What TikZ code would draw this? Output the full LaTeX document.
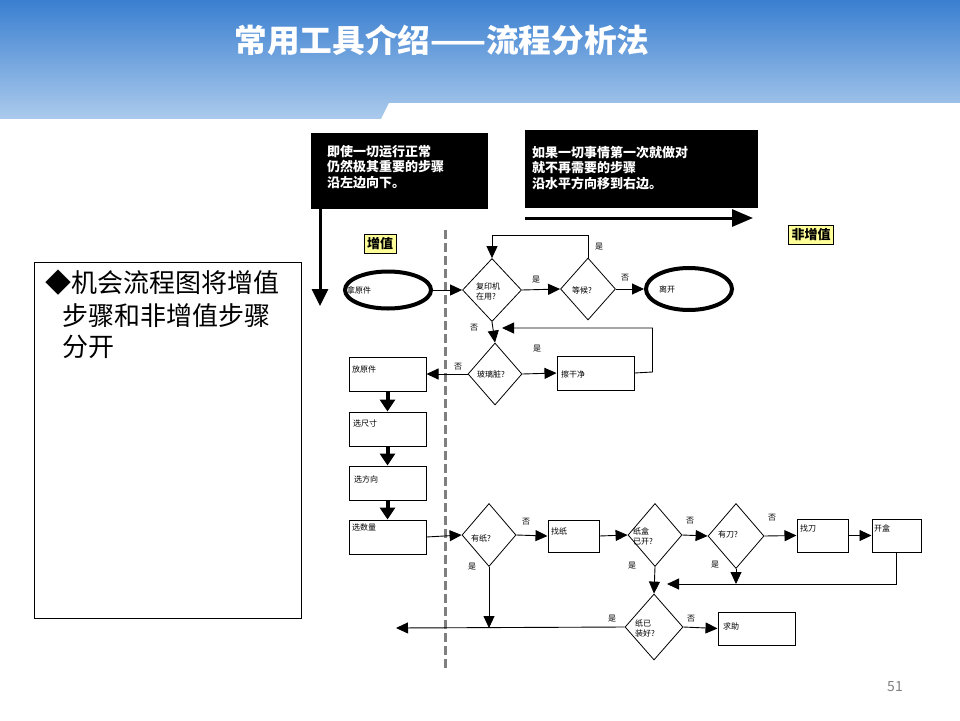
\documentclass[tikz,border=0pt]{standalone}
\usepackage{fontspec}
\setmainfont{Noto Sans CJK SC}
\usetikzlibrary{shapes.geometric,arrows.meta}
\definecolor{hdtop}{HTML}{3A7FD0}
\definecolor{hdbot}{HTML}{AACAEC}
\definecolor{tagyellow}{HTML}{FFFF99}
\definecolor{dashgray}{HTML}{7F7F7F}
\tikzset{
  lbl/.style={font=\fontsize{8}{10}\selectfont, inner sep=0pt, align=left},
  dia/.style={draw, shape=diamond, inner sep=0pt, line width=0.8pt},
  pbox/.style={draw, rectangle, line width=1pt, inner sep=0pt},
  oval/.style={draw, ellipse, line width=4pt, inner sep=0pt},
  con/.style={line width=0.9pt, -{Triangle[length=12pt,width=11pt]}},
  fat/.style={line width=4pt, -{Triangle[length=12pt,width=15pt]}},
  blackbox/.style={fill=black, draw=black, inner sep=0pt},
  wtxt/.style={text=white, font=\fontsize{13}{15.5}\selectfont\bfseries, inner sep=0pt, align=left, anchor=north west},
  tag/.style={draw=black, fill=tagyellow, line width=0.6pt, font=\fontsize{13}{15}\selectfont\bfseries, inner sep=3pt},
  big/.style={font=\fontsize{26}{31}\selectfont, inner sep=0pt, anchor=west}
}
\begin{document}
\begin{tikzpicture}[x=1pt,y=-1pt]
\useasboundingbox (0,0) rectangle (960,720);
\fill[white] (0,0) rectangle (960,720);
% header
\shade[top color=hdtop, bottom color=hdbot] (0,0) rectangle (960,118);
\fill[white] (381,119) -- (389,103) -- (960,103) -- (960,119) -- cycle;
\node[text=white, font=\fontsize{32}{34}\selectfont\bfseries, inner sep=0pt, xscale=1.02] (title) at (442,40) {常用工具介绍——流程分析法};
% left text box
\node[draw=black, line width=0.8pt, minimum width=267pt, minimum height=356pt, inner sep=0pt] (leftbox) at (167.5,440) {};
\node[big] (lt1) at (45,283) {◆机会流程图将增值};
\node[big] (lt2) at (62,316) {步骤和非增值步骤};
\node[big] (lt3) at (62,347) {分开};
% black boxes
\node[blackbox, minimum width=176pt, minimum height=75pt] (b1) at (399,170.5) {};
\node[wtxt] (b1t) at (327,145) {即使一切运行正常\\仍然极其重要的步骤\\沿左边向下。};
\node[blackbox, minimum width=232pt, minimum height=77pt] (b2) at (641,168.5) {};
\node[wtxt] (b2t) at (532,146) {如果一切事情第一次就做对\\就不再需要的步骤\\沿水平方向移到右边。};
\coordinate (downend) at (320,306);
\draw[line width=3pt, -{Triangle[length=17pt,width=16pt]}] (downend |- b1.south) -- (downend);
\coordinate (hs) at (525,218);
\coordinate (he) at (753,218);
\draw[line width=3pt, -{Triangle[length=21pt,width=17pt]}] (hs) -- (he);
% tags
\node[tag] (tagv) at (380,244) {增值};
\node[tag] (tagn) at (811,235) {非增值};
% dashed divider
\coordinate (dtop) at (445,230);
\coordinate (dbot) at (445,670);
\draw[dashgray, line width=3pt, dash pattern=on 9pt off 4pt] (dtop) -- (dbot);
% row 1
\node[oval, minimum width=86pt, minimum height=37pt] (take) at (388,290) {};
\node[lbl, anchor=west] (taket) at (347,290) {拿原件};
\node[dia, minimum width=59pt, minimum height=63pt] (d1) at (492,290) {};
\node[lbl, anchor=west] (d1t) at (476,291) {复印机\\在用?};
\node[dia, minimum width=55pt, minimum height=62pt] (d2) at (588,289) {};
\node[lbl, anchor=west] (d2t) at (572,290) {等候?};
\node[oval, minimum width=86pt, minimum height=42pt] (leave) at (689,289) {};
\node[lbl, anchor=west] (leavet) at (659,289) {离开};
\draw[con] (take.east) -- (d1.west);
\draw[con] (d1.east) -- (d2.west);
\draw[con] (d2.east) -- (leave.west);
\draw[con] (d2.north) -- ++(0,-22) -| (d1.north);
% glass
\node[dia, minimum width=54pt, minimum height=62pt] (d3) at (495,374) {};
\node[lbl, anchor=west] (d3t) at (477,374) {玻璃脏?};
\node[pbox, minimum width=77pt, minimum height=34pt] (clean) at (595.5,373) {};
\node[lbl, anchor=west] (cleant) at (561,374) {擦干净};
\coordinate (back) at (502,328);
\draw[con] (d1.south) -- (d3.north);
\draw[con] (d3.east) -- (clean.west);
\draw[con] (clean.east) -- ++(18,-1) |- (back);
% left column
\node[pbox, minimum width=77pt, minimum height=34pt] (put) at (387.5,374) {};
\node[lbl, anchor=west] (putt) at (352,369) {放原件};
\node[pbox, minimum width=77pt, minimum height=34pt] (size) at (387.5,429) {};
\node[lbl, anchor=west] (sizet) at (353,423) {选尺寸};
\node[pbox, minimum width=77pt, minimum height=34pt] (dir) at (387.5,483) {};
\node[lbl, anchor=west] (dirt) at (354,479) {选方向};
\node[pbox, minimum width=77pt, minimum height=34pt] (qty) at (387.5,537) {};
\node[lbl, anchor=west] (qtyt) at (352,527) {选数量};
\draw[con] (d3.west) -- (put.east);
\draw[fat] (put.south) -- (size.north);
\draw[fat] (size.south) -- (dir.north);
\draw[fat] (dir.south) -- (qty.north);
% paper row
\node[dia, minimum width=54pt, minimum height=63pt] (d5) at (489,535) {};
\node[lbl, anchor=west] (d5t) at (471,538) {有纸?};
\node[pbox, minimum width=51pt, minimum height=32pt] (findp) at (573.5,536) {};
\node[lbl, anchor=west] (findpt) at (551,531) {找纸};
\node[dia, minimum width=54pt, minimum height=63pt] (d6) at (655,535) {};
\node[lbl, anchor=west] (d6t) at (633,536) {纸盒\\已开?};
\node[dia, minimum width=56pt, minimum height=65pt] (d7) at (736,536) {};
\node[lbl, anchor=west] (d7t) at (718,534) {有刀?};
\node[pbox, minimum width=51pt, minimum height=33pt] (knife) at (822.5,535.5) {};
\node[lbl, anchor=west] (knifet) at (800,528) {找刀};
\node[pbox, minimum width=49pt, minimum height=33pt] (open) at (896.5,535.5) {};
\node[lbl, anchor=west] (opent) at (874,528) {开盒};
\draw[con] (qty.east) -- (d5.west);
\draw[con] (d5.east) -- (findp.west);
\draw[con] (findp.east) -- (d6.west);
\draw[con] (d6.east) -- (d7.west);
\draw[con] (d7.east) -- (knife.west);
\draw[con] (knife.east) -- (open.west);
\coordinate (join) at (667,584);
\draw[con] (open.south) |- (join);
\draw[con] (d7.south) -- (d7.south |- join);
% bottom
\node[dia, minimum width=58pt, minimum height=66pt] (d8) at (654,627) {};
\node[lbl, anchor=west] (d8t) at (635,628) {纸已\\装好?};
\node[pbox, minimum width=77pt, minimum height=33pt] (help) at (756.5,628.5) {};
\node[lbl, anchor=west] (helpt) at (723,626) {求助};
\draw[con] (d6.south) -- (d8.north);
\draw[con] (d8.east) -- (help.west);
\coordinate (exitL) at (396,628);
\draw[con] (d8.west) -- (exitL);
\draw[con] (d5.south) -- (d5.south |- exitL);
% yes/no labels
\node[lbl] (l1) at (536,280) {是};
\node[lbl] (l2) at (625,278) {否};
\node[lbl] (l3) at (599,247) {是};
\node[lbl] (l4) at (474,328) {否};
\node[lbl] (l5) at (537,349) {是};
\node[lbl] (l6) at (458,367) {否};
\node[lbl] (l7) at (526,522) {否};
\node[lbl] (l8) at (472,567) {是};
\node[lbl] (l9) at (690,521) {否};
\node[lbl] (l10) at (632,566) {是};
\node[lbl] (l11) at (772,518) {否};
\node[lbl] (l12) at (715,565) {是};
\node[lbl] (l13) at (612,619) {是};
\node[lbl] (l14) at (691,619) {否};
% page number
\node[text=gray, font=\fontsize{14}{16}\selectfont, inner sep=0pt] (pnum) at (895,687) {51};
\end{tikzpicture}
\end{document}
